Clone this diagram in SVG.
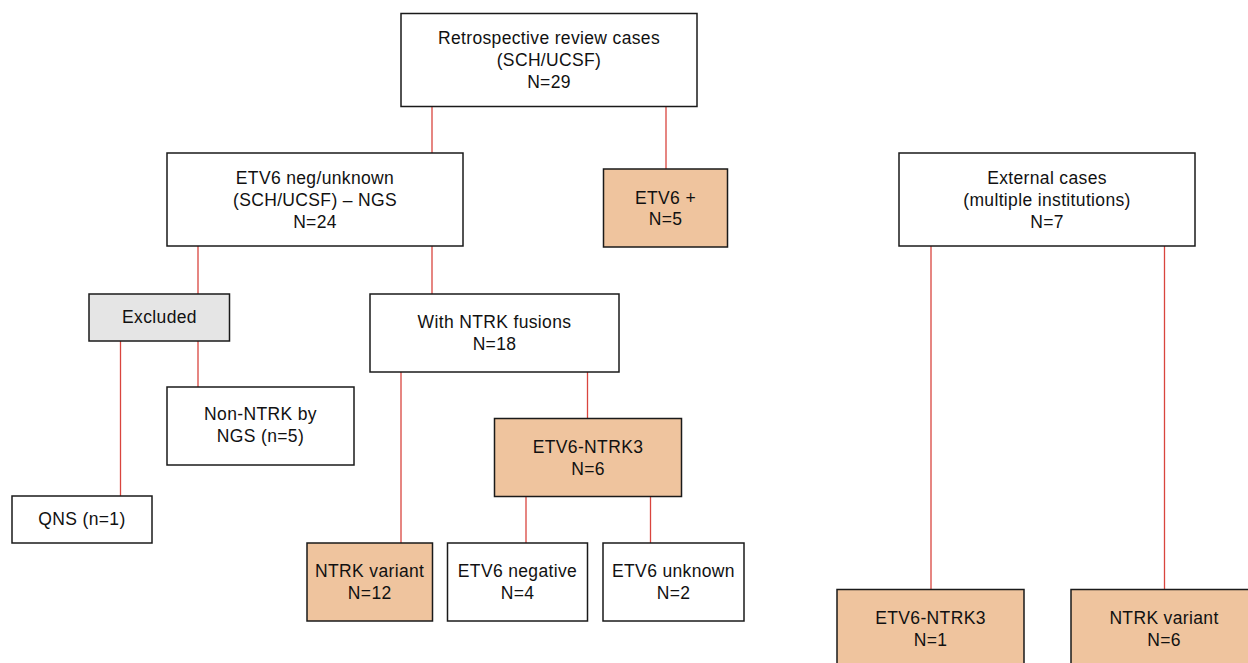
<svg xmlns="http://www.w3.org/2000/svg" width="1248" height="663" viewBox="0 0 1248 663">
<style>
.box{fill:#ffffff;stroke:#1a1a1a;stroke-width:1.5}
.or{fill:#EFC49E}
.gr{fill:#E5E5E5}
.t{font-family:"Liberation Sans",Arial,sans-serif;font-size:17.5px;letter-spacing:0.35px;fill:#111111;text-anchor:middle}
.c{stroke:#D9453E;stroke-width:1.3;fill:none}
</style>
<rect width="1248" height="663" fill="#ffffff"/>
<g id="connectors">
<line class="c" x1="432" y1="106" x2="432" y2="153"/>
<line class="c" x1="666" y1="106" x2="666" y2="169"/>
<line class="c" x1="198" y1="246" x2="198" y2="294"/>
<line class="c" x1="432" y1="246" x2="432" y2="294"/>
<line class="c" x1="120.5" y1="341" x2="120.5" y2="496"/>
<line class="c" x1="198" y1="341" x2="198" y2="387"/>
<line class="c" x1="401" y1="372" x2="401" y2="543"/>
<line class="c" x1="587.5" y1="372" x2="587.5" y2="418"/>
<line class="c" x1="526" y1="497" x2="526" y2="543"/>
<line class="c" x1="650.5" y1="497" x2="650.5" y2="543"/>
<line class="c" x1="931" y1="246" x2="931" y2="589"/>
<line class="c" x1="1164.5" y1="246" x2="1164.5" y2="589"/>
</g>
<g id="n-retro">
<rect class="box" x="401" y="13.5" width="296" height="93"/>
<text class="t" x="549" y="44">Retrospective review cases</text>
<text class="t" x="549" y="66">(SCH/UCSF)</text>
<text class="t" x="549" y="88">N=29</text>
</g>
<g id="n-etv6pos">
<rect class="box or" x="603.5" y="169" width="124" height="78"/>
<text class="t" x="665.5" y="203.5">ETV6 +</text>
<text class="t" x="665.5" y="225">N=5</text>
</g>
<g id="n-etv6neg">
<rect class="box" x="167" y="153" width="296" height="93"/>
<text class="t" x="315" y="184">ETV6 neg/unknown</text>
<text class="t" x="315" y="206">(SCH/UCSF) – NGS</text>
<text class="t" x="315" y="228">N=24</text>
</g>
<g id="n-external">
<rect class="box" x="899" y="153" width="296" height="93"/>
<text class="t" x="1047" y="184">External cases</text>
<text class="t" x="1047" y="206">(multiple institutions)</text>
<text class="t" x="1047" y="228">N=7</text>
</g>
<g id="n-excluded">
<rect class="box gr" x="89" y="294" width="140.5" height="47"/>
<text class="t" x="159.5" y="323">Excluded</text>
</g>
<g id="n-withntrk">
<rect class="box" x="370" y="294" width="249" height="78"/>
<text class="t" x="494.5" y="328">With NTRK fusions</text>
<text class="t" x="494.5" y="350">N=18</text>
</g>
<g id="n-nonntrk">
<rect class="box" x="167" y="387" width="187" height="78"/>
<text class="t" x="260.5" y="420">Non-NTRK by</text>
<text class="t" x="260.5" y="442">NGS (n=5)</text>
</g>
<g id="n-qns">
<rect class="box" x="12" y="496" width="140" height="47"/>
<text class="t" x="82" y="525">QNS (n=1)</text>
</g>
<g id="n-etv6ntrk3">
<rect class="box or" x="494.5" y="418.5" width="187" height="78"/>
<text class="t" x="588" y="452.5">ETV6-NTRK3</text>
<text class="t" x="588" y="475">N=6</text>
</g>
<g id="n-ntrkvar">
<rect class="box or" x="307" y="543" width="125.5" height="78"/>
<text class="t" x="369.7" y="577">NTRK variant</text>
<text class="t" x="369.7" y="599">N=12</text>
</g>
<g id="n-etv6negative">
<rect class="box" x="447.5" y="543" width="140" height="78"/>
<text class="t" x="517.5" y="577">ETV6 negative</text>
<text class="t" x="517.5" y="599">N=4</text>
</g>
<g id="n-etv6unknown">
<rect class="box" x="603" y="543" width="141" height="78"/>
<text class="t" x="673.5" y="577">ETV6 unknown</text>
<text class="t" x="673.5" y="599">N=2</text>
</g>
<g id="n-ext-etv6ntrk3">
<rect class="box or" x="837" y="589.5" width="187" height="80"/>
<text class="t" x="930.5" y="623.5">ETV6-NTRK3</text>
<text class="t" x="930.5" y="645.5">N=1</text>
</g>
<g id="n-ext-ntrkvar">
<rect class="box or" x="1071" y="589.5" width="187" height="80"/>
<text class="t" x="1164" y="623.5">NTRK variant</text>
<text class="t" x="1164" y="645.5">N=6</text>
</g>
</svg>
